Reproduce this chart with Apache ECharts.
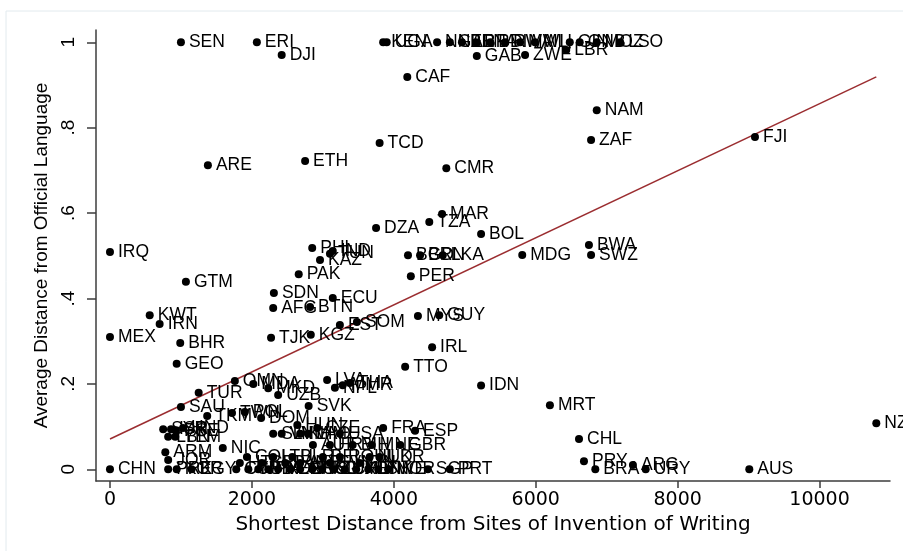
<!DOCTYPE html>
<html>
<head>
<meta charset="utf-8">
<script src="https://cdn.jsdelivr.net/npm/echarts@6/dist/echarts.min.js"></script>
<style>
  html, body { margin: 0; padding: 0; background: #fff; }
  #main { width: 903px; height: 551px; }
</style>
</head>
<body>
<div id="main"></div>
<script>
// country codes, distance from sites of invention of writing, average distance from official language
var codes = [
  'SEN','ERI','KEN','UGA','NGA','NER','BEN','BFA','BDI','RWA','MWI','MLI','GIN','GNB','MOZ','LSO',
  'DJI','GAB','ZWE','LBR','CAF','NAM','ZAF','FJI','TCD','CMR','ARE','ETH',
  'MAR','TZA','DZA','BOL','BWA','SWZ','MDG','IRQ','PHL','IND','TUN','KAZ','PAK',
  'BGD','BRN','LKA','PER','GTM','SDN','AFG','BTN','ECU','KWT','IRN','MEX','BHR','GEO',
  'TJK','KGZ','EST','SOM','MYS','GUY','IRL','TTO','IDN','MRT','CHL','PRY','BRA','ARG',
  'URY','AUS','NZL','SGP','PRT','LVA','NPL','MMR','THA','OMN','MDA','MKD','UZB','TUR',
  'SAU','SVK','TKM','TWN','POL','DOM','SYR','ISR','LBN','YEM','PSE','HND','ARM','NIC',
  'JOR','CHN','PRK','KOR','EGY',
  'CYP','CUB','JPN','ITA','VEN','DEU','GRC','HKG','ISL','LUX','CHE','MLT','DNK','SWE','NOR',
  'HTI','CRI','PAN','ALB','SVN','FIN',
  'COL','LTU','BLR','BEL','ROU','NLD','UKR',
  'AUT','HRV','BIH','MNE','GBR',
  'SLV','VNM','KHM','LAO','USA','FRA','ESP','HUN','CZE'
];
var distWriting = [
  1000,2070,3850,3900,4610,4790,4960,5160,5360,5570,5780,5990,6480,6620,6860,7190,
  2420,5170,5850,6430,4190,6860,6780,9090,3800,4740,1380,2750,
  4680,4500,3750,5230,6750,6780,5810,0,2850,3140,3100,2960,2660,
  4200,4370,4690,4240,1070,2310,2300,2820,3140,560,700,0,990,940,
  2270,2830,3240,3480,4340,4640,4540,4160,5230,6200,6610,6680,6840,7370,
  7550,9010,10800,4480,4790,3060,3170,3280,3380,1760,2020,2230,2370,1250,
  1000,2800,1370,1720,1900,2130,750,860,820,920,930,1030,780,1590,
  820,0,820,940,1150,
  1780,1950,2090,2230,2370,2540,2680,2850,2990,3160,3310,3470,3640,3780,3920,
  1830,2140,2470,2680,3100,3520,
  1930,2300,2570,3000,3240,3660,3800,
  2860,3100,3420,3690,4090,
  2300,2420,2680,2790,3240,3850,4300,2640,2920
];
var avgDistLang = [
  1,1,1,1,1,1,1,1,1,1,1,1,1,1,1,1,
  0.970,0.968,0.970,0.982,0.919,0.841,0.771,0.778,0.764,0.705,0.712,0.722,
  0.598,0.579,0.565,0.551,0.525,0.502,0.502,0.509,0.518,0.511,0.505,0.490,0.457,
  0.501,0.501,0.501,0.452,0.439,0.413,0.378,0.380,0.401,0.361,0.340,0.310,0.296,0.247,
  0.308,0.315,0.338,0.345,0.359,0.361,0.286,0.240,0.196,0.150,0.071,0.019,0,0.010,
  0,0,0.108,0,0,0.209,0.191,0.197,0.202,0.207,0.200,0.190,0.174,0.179,
  0.146,0.148,0.125,0.132,0.134,0.120,0.094,0.094,0.076,0.076,0.090,0.097,0.040,0.050,
  0.022,0,0,0,0,
  0,0,0,0,0,0,0,0,0,0,0,0,0,0,0,
  0.015,0.015,0.015,0.015,0.015,0.015,
  0.029,0.029,0.029,0.029,0.029,0.029,0.029,
  0.057,0.057,0.057,0.057,0.057,
  0.083,0.083,0.083,0.083,0.083,0.097,0.090,0.104,0.097
];
// fitted line end points
var fitX = [0, 10800];
var fitY = [0.071, 0.919];
var xTicks = [0, 2000, 4000, 6000, 8000, 10000];
var yTicks = [0, 0.2, 0.4, 0.6, 0.8, 1];

var points = codes.map(function (c, i) {
  return [distWriting[i], avgDistLang[i], c];
});
var fitLine = fitX.map(function (x, i) { return [x, fitY[i]]; });

var myChart = echarts.init(document.getElementById('main'));
var axisCol = '#3c3c3c';

myChart.setOption({
  animation: false,
  backgroundColor: '#fff',
  graphic: [{
    type: 'polyline',
    shape: { points: [[6, 560], [6, 11], [910, 11]] },
    style: { stroke: '#e2eaee', fill: null, lineWidth: 1 },
    silent: true
  }],
  grid: { left: 96, right: 13, top: 30, bottom: 70 },
  xAxis: {
    type: 'value',
    min: -197,
    max: 10993,
    name: 'Shortest Distance from Sites of Invention of Writing',
    nameLocation: 'middle',
    nameGap: 28,
    nameTextStyle: { fontFamily: 'DejaVu Sans', fontSize: 20, color: '#000' },
    axisLine: { onZero: false, lineStyle: { color: axisCol, width: 1.5 } },
    axisTick: { customValues: xTicks, length: 7, lineStyle: { color: axisCol, width: 1.5 } },
    axisLabel: {
      customValues: xTicks,
      margin: 10,
      fontFamily: 'DejaVu Sans',
      fontSize: 19,
      color: '#000',
      formatter: function (v) { return String(v); }
    },
    splitLine: { show: false }
  },
  yAxis: {
    type: 'value',
    min: -0.0274,
    max: 1.0288,
    name: 'Average Distance from Official Language',
    nameLocation: 'middle',
    nameGap: 44,
    nameTextStyle: { fontFamily: 'Liberation Sans', fontSize: 19, color: '#000' },
    axisLine: { onZero: false, lineStyle: { color: axisCol, width: 1.5 } },
    axisTick: { customValues: yTicks, length: 9, lineStyle: { color: axisCol, width: 1.5 } },
    axisLabel: {
      customValues: yTicks,
      rotate: 90,
      margin: 18,
      fontFamily: 'Liberation Sans',
      fontSize: 19,
      color: '#000',
      formatter: function (v) {
        if (v === 0) return '0';
        if (v === 1) return '1';
        return String(+v.toFixed(1)).replace(/^0/, '');
      }
    },
    splitLine: { show: false }
  },
  series: [{
    type: 'line',
    data: fitLine,
    symbol: 'none',
    lineStyle: { color: '#9b2d30', width: 1.5 },
    z: 1,
    silent: true
  }, {
    type: 'scatter',
    data: points,
    symbol: 'circle',
    symbolSize: 8,
    itemStyle: { color: '#000', opacity: 1 },
    z: 2,
    label: {
      show: true,
      position: 'right',
      distance: 4,
      formatter: function (p) { return p.data[2]; },
      fontFamily: 'Liberation Sans',
      fontSize: 17.5,
      color: '#000'
    }
  }]
});
</script>
</body>
</html>
